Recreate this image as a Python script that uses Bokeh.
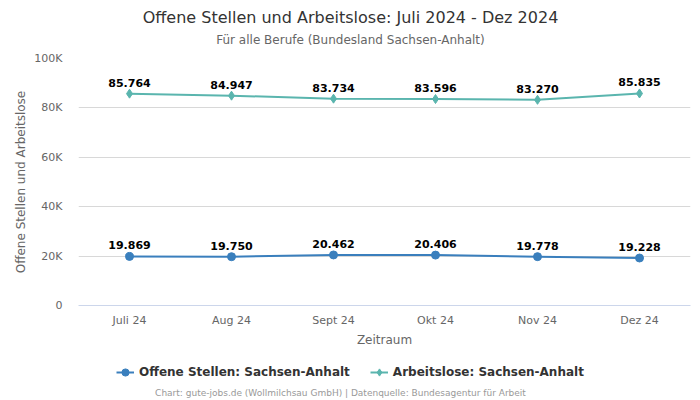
from bokeh.plotting import figure
from bokeh.layouts import column
from bokeh.models import Range1d, Label, Legend, LegendItem, ColumnDataSource, LabelSet, FixedTicker, CustomJSTickFormatter
from bokeh.core.properties import value
from bokeh.embed import file_html
from bokeh.resources import INLINE

months = ["Juli 24", "Aug 24", "Sept 24", "Okt 24", "Nov 24", "Dez 24"]
offene_stellen = [19869, 19750, 20462, 20406, 19778, 19228]
arbeitslose = [85764, 84947, 83734, 83596, 83270, 85835]
y_ticks = [0, 20000, 40000, 60000, 80000, 100000]
series_names = ["Offene Stellen: Sachsen-Anhalt", "Arbeitslose: Sachsen-Anhalt"]
title_text = "Offene Stellen und Arbeitslose: Juli 2024 - Dez 2024"
subtitle_text = "Für alle Berufe (Bundesland Sachsen-Anhalt)"
footer_text = "Chart: gute-jobs.de (Wollmilchsau GmbH) | Datenquelle: Bundesagentur für Arbeit"

FONT = "DejaVu Sans"
C1 = "#3a7fbd"
C2 = "#5ab5ae"
W = 700
FRAME_LEFT = 78  # frames are aligned across the column


def fmt(v):
    return f"{v:,}".replace(",", ".")


def blank_fig(h):
    f = figure(width=W, height=h, x_range=Range1d(0, 1), y_range=Range1d(0, 1),
               output_backend="svg", toolbar_location=None,
               x_axis_location=None, y_axis_location=None,
               min_border=0, min_border_left=0, min_border_right=0,
               min_border_top=0, min_border_bottom=0)
    f.outline_line_color = None
    f.xgrid.visible = False
    f.ygrid.visible = False
    f.background_fill_color = "white"
    f.border_fill_color = "white"
    return f


# ---- header ----
top = blank_fig(50)
top.add_layout(Label(x=350 - FRAME_LEFT, y=33, x_units="screen", y_units="screen", text=title_text,
                     text_align="center", text_baseline="middle", text_font=FONT,
                     text_font_size="16px", text_color="#333333"))
top.add_layout(Label(x=350 - FRAME_LEFT, y=11, x_units="screen", y_units="screen", text=subtitle_text,
                     text_align="center", text_baseline="middle", text_font=FONT,
                     text_font_size="12px", text_color="#666666"))

# ---- main chart ----
p = figure(width=W, height=300, x_range=months, y_range=Range1d(0, 100000),
           output_backend="svg", toolbar_location=None,
           min_border_left=FRAME_LEFT, min_border_right=10, min_border_top=8, min_border_bottom=45)
p.outline_line_color = None
p.background_fill_color = "white"
p.border_fill_color = "white"

src1 = ColumnDataSource(dict(x=months, y=offene_stellen, t=[fmt(v) for v in offene_stellen]))
src2 = ColumnDataSource(dict(x=months, y=arbeitslose, t=[fmt(v) for v in arbeitslose]))

p.line("x", "y", source=src1, line_color=C1, line_width=2)
p.scatter("x", "y", source=src1, marker="circle", size=8, fill_color=C1, line_color=C1)
p.line("x", "y", source=src2, line_color=C2, line_width=2)
p.scatter("x", "y", source=src2, marker="diamond", size=9, fill_color=C2, line_color=C2)

for s in (src1, src2):
    p.add_layout(LabelSet(x="x", y="y", text="t", source=s, y_offset=7, text_align="center",
                          text_baseline="bottom", text_font=value(FONT), text_font_size="11px",
                          text_font_style="bold", text_color="black"))

p.yaxis.ticker = FixedTicker(ticks=y_ticks)
p.yaxis.formatter = CustomJSTickFormatter(code="return tick == 0 ? '0' : (tick/1000) + 'K';")
p.yaxis.axis_line_color = None
p.yaxis.major_tick_line_color = None
p.yaxis.minor_tick_line_color = None
p.yaxis.major_label_text_font = FONT
p.yaxis.major_label_text_font_size = "11px"
p.yaxis.major_label_text_color = "#666666"
p.yaxis.major_label_standoff = 10
p.yaxis.axis_label = "Offene Stellen und Arbeitslose"
p.yaxis.axis_label_text_font = FONT
p.yaxis.axis_label_text_font_size = "12px"
p.yaxis.axis_label_text_font_style = "normal"
p.yaxis.axis_label_text_color = "#666666"
p.yaxis.axis_label_standoff = 3

p.xaxis.axis_line_color = "#ccd6eb"
p.xaxis.major_tick_line_color = None
p.xaxis.minor_tick_line_color = None
p.xaxis.major_label_text_font = FONT
p.xaxis.major_label_text_font_size = "11px"
p.xaxis.major_label_text_color = "#666666"
p.xaxis.major_label_standoff = 2
p.xaxis.axis_label = "Zeitraum"
p.xaxis.axis_label_text_font = FONT
p.xaxis.axis_label_text_font_size = "12px"
p.xaxis.axis_label_text_font_style = "normal"
p.xaxis.axis_label_text_color = "#666666"
p.xaxis.axis_label_standoff = 3

p.xgrid.grid_line_color = None
p.ygrid.grid_line_color = "#d8d8d8"

# ---- footer with legend ----
bot = blank_fig(50)
d1l = bot.line(x=[-5, -4], y=[-5, -4], line_color=C1, line_width=2)
d1m = bot.scatter(x=[-5], y=[-5], marker="circle", size=8, fill_color=C1, line_color=C1)
d2l = bot.line(x=[-5, -4], y=[-5, -4], line_color=C2, line_width=2)
d2m = bot.scatter(x=[-5], y=[-5], marker="diamond", size=9, fill_color=C2, line_color=C2)
legend = Legend(items=[LegendItem(label=series_names[0], renderers=[d1l, d1m]),
                       LegendItem(label=series_names[1], renderers=[d2l, d2m])],
                orientation="horizontal", location=(116 - FRAME_LEFT, 18), border_line_color=None,
                background_fill_alpha=0,
                label_text_font=FONT, label_text_font_size="12px", label_text_font_style="bold",
                label_text_color="#333333", glyph_width=18, glyph_height=20,
                label_height=20, spacing=20, margin=0, padding=0, label_standoff=5)
bot.add_layout(legend, "center")
bot.add_layout(Label(x=340 - FRAME_LEFT, y=8, x_units="screen", y_units="screen", text=footer_text,
                     text_align="center", text_baseline="middle", text_font=FONT,
                     text_font_size="9px", text_color="#999999"))

layout = column(top, p, bot, spacing=0)
open("out.html", "w").write(file_html(layout, INLINE))
